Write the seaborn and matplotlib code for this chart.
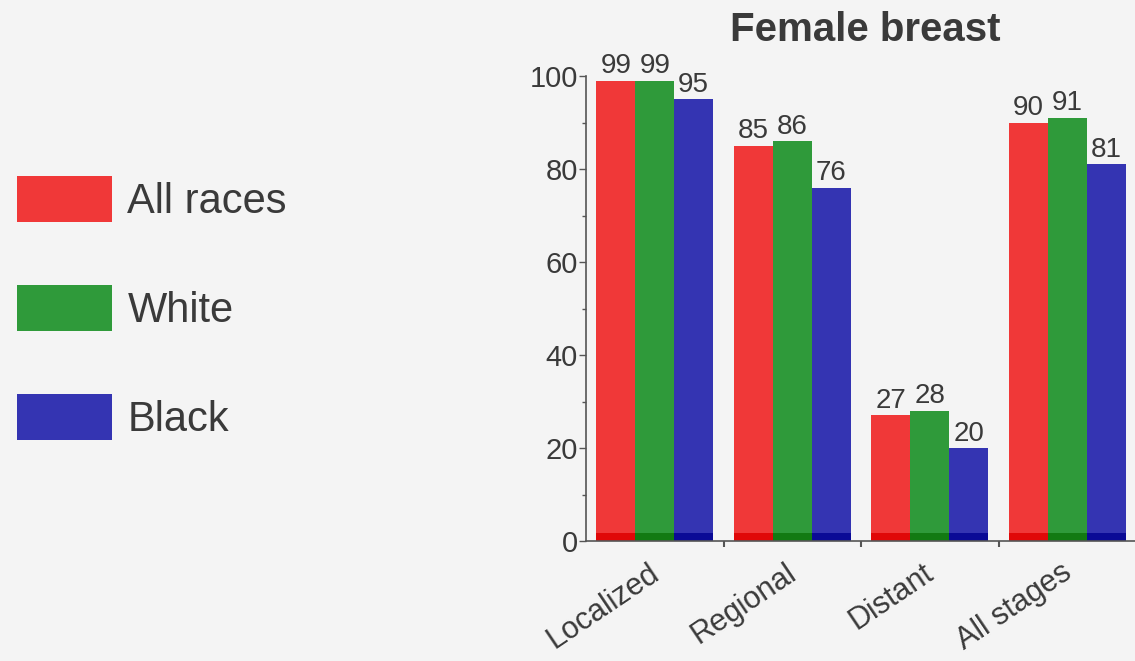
import numpy as np
import pandas as pd
import matplotlib
matplotlib.use("Agg")
import matplotlib.pyplot as plt
import matplotlib.transforms as mtransforms
from matplotlib.patches import Rectangle
from matplotlib.ticker import MultipleLocator, FixedLocator
import seaborn as sns

stages = ["Localized", "Regional", "Distant", "All stages"]
all_races = [99, 85, 27, 90]
white = [99, 86, 28, 91]
black = [95, 76, 20, 81]
groups = ["All races", "White", "Black"]
colors = ["#f03838", "#2f9a3a", "#3434b2"]
foot_colors = ["#e00808", "#127a12", "#0a0a96"]

df = pd.DataFrame({
    "stage": stages * 3,
    "survival": all_races + white + black,
    "group": [g for g in groups for _ in stages],
})

sns.set_theme(style="ticks")
plt.rcParams["font.family"] = ["Liberation Sans", "DejaVu Sans"]
text_color = "#3a3a3a"
bg = "#f4f4f4"

fig = plt.figure(figsize=(11.35, 6.61), dpi=100, facecolor=bg)
ax = fig.add_axes([0.5163, 0.1815, 0.4846, 0.7035])
ax.set_facecolor(bg)

sns.barplot(data=df, x="stage", y="survival", hue="group", hue_order=groups,
            palette=colors, width=0.85, saturation=1, linewidth=0,
            ax=ax, legend=True)

# darker foot along the base of every bar
for container, fc in zip(ax.containers, foot_colors):
    for bar in container:
        ax.add_patch(Rectangle((bar.get_x(), 0), bar.get_width(), 1.7,
                               facecolor=fc, linewidth=0,
                               zorder=bar.get_zorder() + 0.1))

for container in ax.containers:
    ax.bar_label(container, fmt="%d", padding=1, fontsize=20, color=text_color)

ax.set_ylim(0, 100)
ax.set_xlim(-0.5, 3.5)
ax.yaxis.set_major_locator(MultipleLocator(20))
ax.yaxis.set_minor_locator(MultipleLocator(10))
ax.xaxis.set_minor_locator(FixedLocator([0.5, 1.5, 2.5]))
ax.tick_params(axis="y", which="major", length=5, width=1, color="#555555",
               labelsize=21, labelcolor=text_color, pad=1)
ax.tick_params(axis="y", which="minor", length=3, width=1, color="#555555")
ax.tick_params(axis="x", which="major", length=0, labelsize=22,
               labelcolor=text_color, pad=12)
ax.tick_params(axis="x", which="minor", length=4, width=1.5, color="#555555")
shift = mtransforms.ScaledTranslation(-0.07, 0, fig.dpi_scale_trans)
for lbl in ax.get_xticklabels():
    lbl.set_rotation(34)
    lbl.set_ha("right")
    lbl.set_rotation_mode("anchor")
    lbl.set_transform(lbl.get_transform() + shift)

ax.set_xlabel("")
ax.set_ylabel("")
for side in ["top", "right"]:
    ax.spines[side].set_visible(False)
for side in ["left", "bottom"]:
    ax.spines[side].set_color("#555555")
    ax.spines[side].set_linewidth(1.2)

fig.text(0.762, 0.955, "Female breast", ha="center", va="center",
         fontsize=29, fontweight="bold", color=text_color)

handles, labels = ax.get_legend_handles_labels()
ax.get_legend().remove()
fig.legend(handles, labels, loc="upper left", bbox_to_anchor=(-0.014, 0.784),
           frameon=False, fontsize=30, handlelength=2.28, handleheight=1.3,
           labelspacing=1.52, handletextpad=0.36, labelcolor=text_color,
           borderaxespad=0.4)

fig.savefig("out.png", dpi=100, facecolor=bg)
